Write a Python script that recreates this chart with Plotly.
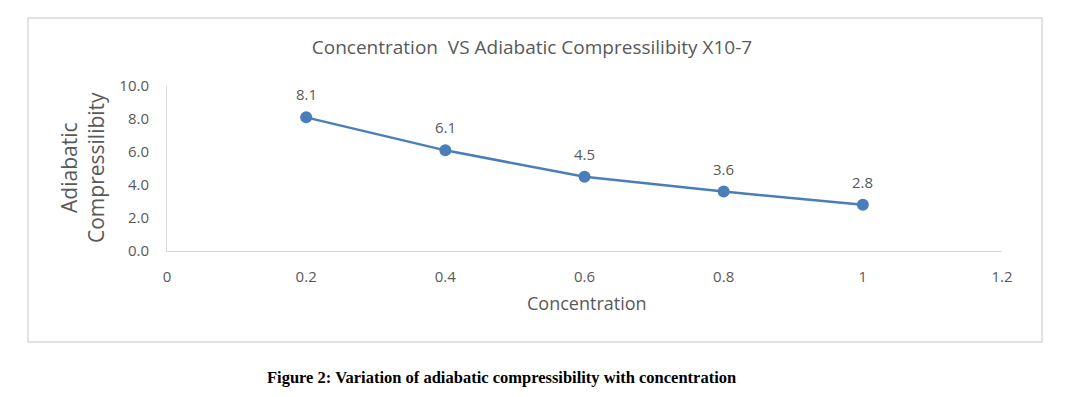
import plotly.graph_objects as go

concentration = [0.2, 0.4, 0.6, 0.8, 1.0]
compressibility = [8.1, 6.1, 4.5, 3.6, 2.8]
x_ticks = [0, 0.2, 0.4, 0.6, 0.8, 1, 1.2]
x_tick_labels = ["0", "0.2", "0.4", "0.6", "0.8", "1", "1.2"]
y_ticks = [0, 2, 4, 6, 8, 10]
y_tick_labels = ["0.0", "2.0", "4.0", "6.0", "8.0", "10.0"]

title_text = "Concentration&nbsp; VS Adiabatic Compressilibity X10-7"
caption_text = "<b>Figure 2: Variation of adiabatic compressibility with concentration</b>"

gray = "#595959"
blue = "#4a7ebb"
font = "Open Sans"

# page has an 8px body margin; the figure is placed at (8, 8)
OFF = 8
W, H = 1068 - OFF, 397 - OFF
PL, PR, PT, PB = 167, 1002, 86, 251  # plot area in window pixels
pw, ph = PR - PL, PB - PT


def px(xw):
    return (xw - PL) / pw


def py(yw):
    return (PB - yw) / ph


fig = go.Figure()
fig.add_trace(go.Scatter(
    x=concentration, y=compressibility,
    mode="lines+markers",
    line=dict(color=blue, width=2.5),
    marker=dict(color=blue, size=12),
    cliponaxis=False,
    showlegend=False,
))

annotations = [dict(x=xv, y=yv, text=f"{yv:.1f}", showarrow=False, yshift=23,
                    xanchor="center", yanchor="middle",
                    font=dict(family=font, size=15, color=gray))
               for xv, yv in zip(concentration, compressibility)]
annotations.append(dict(text=caption_text, xref="paper", yref="paper",
                        x=px(501), y=py(377), xanchor="center", yanchor="middle",
                        showarrow=False, font=dict(family="Liberation Serif", size=16.5, color="black")))
annotations.append(dict(text="Adiabatic<br>Compressilibity", xref="paper", yref="paper",
                        x=px(82), y=py(168), xanchor="center", yanchor="middle", textangle=-90,
                        showarrow=False, font=dict(family=font, size=21, color=gray)))
annotations.append(dict(text="Concentration", xref="paper", yref="paper",
                        x=px(587), y=py(303), xanchor="center", yanchor="middle",
                        showarrow=False, font=dict(family=font, size=18, color=gray)))

fig.update_layout(
    width=W, height=H,
    margin=dict(l=PL - OFF, r=1068 - PR, t=PT - OFF, b=397 - PB),
    paper_bgcolor="white", plot_bgcolor="white",
    font=dict(family=font, color=gray),
    title=dict(text=title_text, x=px(532), xanchor="center", xref="paper",
               y=1 - (47 - OFF) / H, yanchor="middle",
               font=dict(family=font, size=19, color=gray)),
    xaxis=dict(range=[0, 1.2], tickvals=x_ticks, ticktext=x_tick_labels,
               showgrid=False, zeroline=False, showline=True, linecolor="#d9d9d9", linewidth=1,
               ticks="", ticklabelstandoff=12, tickfont=dict(family=font, size=15, color=gray)),
    yaxis=dict(range=[0, 10], tickvals=y_ticks, ticktext=y_tick_labels,
               showgrid=False, zeroline=False, showline=True, linecolor="#d9d9d9", linewidth=1,
               ticks="", ticklabelstandoff=14, tickfont=dict(family=font, size=15, color=gray)),
    shapes=[dict(type="rect", xref="paper", yref="paper",
                 x0=px(28), x1=px(1042), y0=py(342), y1=py(18),
                 line=dict(color="#d9d9d9", width=1.5), fillcolor="rgba(0,0,0,0)", layer="below")],
    annotations=annotations,
)

fig.write_html("out.html")
